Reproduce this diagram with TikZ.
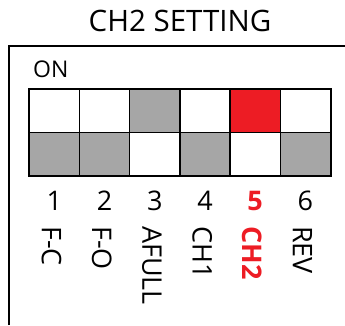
\documentclass[tikz,border=0pt]{standalone}
\usepackage{fontspec}
\setmainfont{Open Sans}
\usetikzlibrary{positioning}
\definecolor{swgray}{RGB}{166,166,166}
\definecolor{swred}{RGB}{237,28,36}
\tikzset{
  cell/.style={draw=black, line width=1.3pt, minimum width=50.2pt, minimum height=43.3pt, inner sep=0pt, outer sep=0pt},
  num/.style={font=\fontsize{27}{27}\selectfont, anchor=base, inner sep=0pt},
  lbl/.style={font=\fontsize{27}{27}\selectfont, rotate=-90, anchor=base west, inner sep=0pt},
}

\begin{document}
\begin{tikzpicture}[x=1pt,y=1pt]
      \useasboundingbox (0,0) rectangle (345,325);
      \draw[line width=2.4pt] (9,0) -- (9,279) -- (345,279); % open frame
      \node[font=\fontsize{29.5}{29.5}\selectfont] (title) at (180,304) {CH2 SETTING};
      \node[font=\fontsize{23}{23}\selectfont, anchor=base west, inner sep=0pt] (on) at (33,248) {ON};
      \foreach \i/\up/\dn/\name/\tc/\fw in {1/white/swgray/F-C/black/\mdseries, 2/white/swgray/F-O/black/\mdseries, 3/swgray/white/AFULL/black/\mdseries, 4/white/swgray/CH1/black/\mdseries, 5/swred/white/CH2/swred/\bfseries, 6/white/swgray/REV/black/\mdseries}
      {
        \node[cell, fill=\up] (up\i) at ({29.3+50.2*(\i-0.5)},214.2) {};
        \node[cell, fill=\dn] (dn\i) at ({29.3+50.2*(\i-0.5)},170.9) {};
        \node[num, text=\tc] (num\i) at ({29.3+50.2*(\i-0.5)},115) {\fw\i};
        \node[lbl, text=\tc] (lbl\i) at ({29.3+50.2*(\i-0.5)-12.5},99) {\fw\name};
      }
      \draw[line width=2pt] (up1.north west) rectangle (dn6.south east);
\end{tikzpicture}
\end{document}
